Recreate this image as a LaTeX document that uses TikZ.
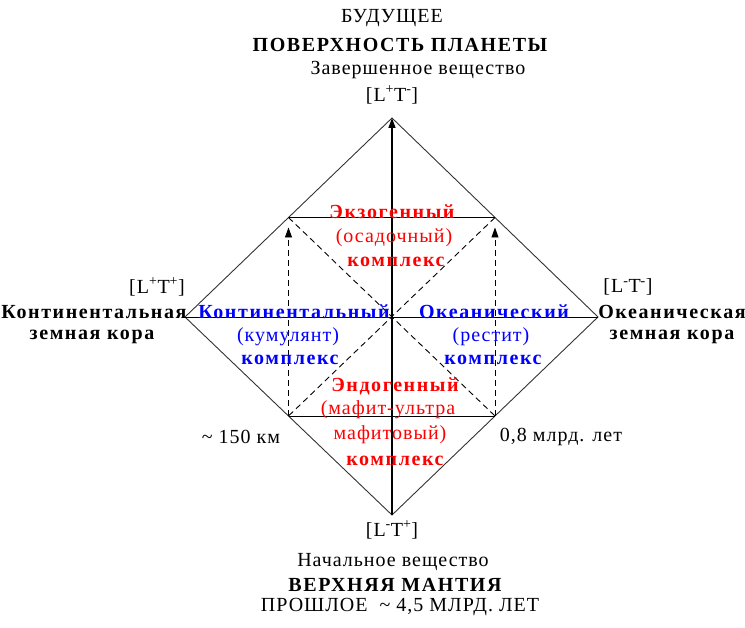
\documentclass[tikz,border=0pt]{standalone}
\usepackage{fontspec}
\setmainfont{Liberation Serif}
\usetikzlibrary{calc,arrows.meta}

\tikzset{
  txt/.style={inner sep=0pt, anchor=center,
    font=\fontsize{20}{22}\selectfont\addfontfeature{LetterSpace=5}},
  btxt/.style={inner sep=0pt, anchor=center,
    font=\fontsize{20}{22}\selectfont\bfseries\addfontfeature{LetterSpace=8}},
  dash line/.style={line width=0.9pt, dash pattern=on 6pt off 4pt},
}

\begin{document}
\begin{tikzpicture}[x=1pt, y=-1pt, >={Triangle[length=10pt,width=7pt]}]
  \useasboundingbox (0,0) rectangle (745,628);
  % Vertices of the diamond
  \coordinate (top) at (392,118);
  \coordinate (lft) at (185,317);
  \coordinate (rgt) at (598,317);
  \coordinate (bot) at (392,515);
  % Midpoints of its sides: corners of the inner rectangle
  \coordinate (tl) at ($(top)!0.5!(lft)$);
  \coordinate (tr) at ($(top)!0.5!(rgt)$);
  \coordinate (bl) at ($(bot)!0.5!(lft)$);
  \coordinate (br) at ($(bot)!0.5!(rgt)$);
  % Diamond and solid inner lines
  \draw[black!80, line width=0.9pt] (top) -- (rgt) -- (bot) -- (lft) -- cycle;
  \draw[line width=0.9pt] (lft) -- (rgt);
  \draw[line width=0.9pt] (tl) -- (tr);
  \draw[line width=0.9pt] (bl) -- (br);
  % Dashed diagonals of the inner rectangle
  \draw[dash line] (tl) -- (br);
  \draw[dash line] (tr) -- (bl);
  % Dashed upward arrows
  \foreach \a/\b in {bl/tl, br/tr}
    \draw[->, dash line, shorten >=10pt] (\a) -- (\b);
  % Main arrow: past -> future
  \draw[->, line width=1.4pt] (bot) -- (top);

  % Top labels
  \node[txt]  (fut)  at (392,18)  {БУДУЩЕЕ};
  \node[btxt] (surf) at (400,45)  {ПОВЕРХНОСТЬ ПЛАНЕТЫ};
  \node[txt]  (fin)  at (418,70)  {Завершенное вещество};
  \node[txt]  (ltt)  at (392,95)  {[L\textsuperscript{+}T\textsuperscript{-}]};
  % Left labels
  \node[txt]  (ltl)  at (157,287) {[L\textsuperscript{+}T\textsuperscript{+}]};
  \node[btxt] (cont) at (94,312)  {Континентальная};
  \node[btxt] (cont2) at (92,337) {земная кора};
  % Right labels
  \node[txt]  (ltr)  at (628,287) {[L\textsuperscript{-}T\textsuperscript{-}]};
  \node[btxt] (ocn)  at (672,312) {Океаническая};
  \node[btxt] (ocn2) at (672,337) {земная кора};
  % Bottom labels
  \node[txt]  (ltb)  at (392,530) {[L\textsuperscript{-}T\textsuperscript{+}]};
  \node[txt]  (init) at (393,562) {Начальное вещество};
  \node[btxt] (mant) at (395,585) {ВЕРХНЯЯ МАНТИЯ};
  \node[txt]  (past) at (400,607) {ПРОШЛОЕ \ \textasciitilde\ 4,5 МЛРД. ЛЕТ};
  % Scale marks
  \node[txt]  (depth) at (241,437) {\textasciitilde\ 150 км};
  \node[txt]  (age)   at (561,437) {0,8 млрд. лет};

  % Exogenic complex
  \node[btxt, red] (exo1) at (392,212) {Экзогенный};
  \node[txt,  red] (exo2) at (394,238) {(осадочный)};
  \node[btxt, red] (exo3) at (396,262) {комплекс};
  % Continental complex
  \node[btxt, blue] (con1) at (294,312) {Континентальный};
  \node[txt,  blue] (con2) at (288,337) {(кумулянт)};
  \node[btxt, blue] (con3) at (290,360) {комплекс};
  % Oceanic complex
  \node[btxt, blue] (oc1) at (494,312) {Океанический};
  \node[txt,  blue] (oc2) at (491,337) {(рестит)};
  \node[btxt, blue] (oc3) at (493,360) {комплекс};
  % Endogenic complex
  \node[btxt, red] (endo1) at (395,386) {Эндогенный};
  \node[txt,  red] (endo2) at (388,410) {(мафит-ультра};
  \node[txt,  red] (endo3) at (390,435) {мафитовый)};
  \node[btxt, red] (endo4) at (395,461) {комплекс};
\end{tikzpicture}
\end{document}
